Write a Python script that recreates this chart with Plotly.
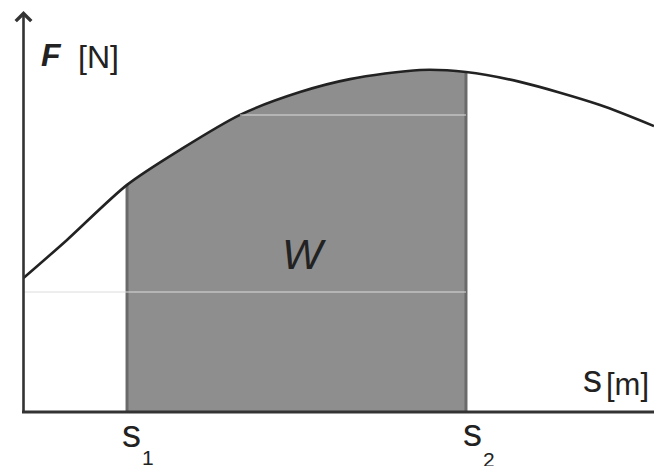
import plotly.graph_objects as go

# ---- data ----
s_vals = [0.0, 0.690, 1.642, 2.482, 3.434, 4.385, 5.178, 6.289, 7.018, 7.875, 9.144, 10.0]
F_vals = [3.94, 5.06, 6.68, 7.71, 8.74, 9.41, 9.79, 10.06, 10.00, 9.71, 9.03, 8.41]
s1 = 1.642
s2 = 7.018
F_s1 = 6.68
F_s2 = 10.00

W = 654
H = 466
# pixel <-> data helpers for layout placement only
X0_PX, XSCALE = 23.5, 63.05
Y0_PX, YSCALE = 412.0, 34.0
def X(px):
    return (px - X0_PX) / XSCALE
def Y(py):
    return (Y0_PX - py) / YSCALE

FILL = "#8e8e8e"
EDGE = "#6a6a6a"
INK = "#222222"
FONT = "Liberation Sans, Arial, sans-serif"

fig = go.Figure()

# shaded work area between s1 and s2
idx = [i for i, s in enumerate(s_vals) if s1 <= s <= s2]
fig.add_trace(go.Scatter(
    x=[s_vals[i] for i in idx], y=[F_vals[i] for i in idx],
    mode="lines", line=dict(width=0, shape="spline", smoothing=0.8),
    fill="tozeroy", fillcolor=FILL, hoverinfo="skip", showlegend=False))

# vertical borders at s1, s2
for sv, fv in [(s1, F_s1), (s2, F_s2)]:
    fig.add_trace(go.Scatter(x=[sv, sv], y=[0, fv], mode="lines",
                             line=dict(color=EDGE, width=3), hoverinfo="skip", showlegend=False))

# the force curve
fig.add_trace(go.Scatter(x=s_vals, y=F_vals, mode="lines",
                         line=dict(color=INK, width=2.6, shape="spline", smoothing=0.8),
                         hoverinfo="skip", showlegend=False))

shapes = [
    # faint scan artefact lines
    dict(type="line", xref="x", yref="y", x0=X(23), x1=X(466), y0=Y(292), y1=Y(292),
         line=dict(color="#dcdcdc", width=1), layer="above"),
    dict(type="line", xref="x", yref="y", x0=X(240), x1=X(466), y0=Y(115), y1=Y(115),
         line=dict(color="#dcdcdc", width=1), layer="above"),
    # s axis
    dict(type="line", xref="x", yref="y", x0=X(22), x1=X(654), y0=0, y1=0,
         line=dict(color="#333333", width=3), layer="above"),
]

annotations = [
    # F axis with arrow
    dict(x=0, y=Y(11), ax=0, ay=Y(413), xref="x", yref="y", axref="x", ayref="y",
         text="", showarrow=True, arrowhead=4, arrowsize=1.15, arrowwidth=2.6,
         arrowcolor="#333333", standoff=0),
    dict(x=X(39), y=Y(55), xref="x", yref="y", text="<b><i>F</i></b>", showarrow=False,
         xanchor="left", yanchor="middle", font=dict(family=FONT, size=32, color=INK)),
    dict(x=X(76), y=Y(57), xref="x", yref="y", text="[N]", showarrow=False,
         xanchor="left", yanchor="middle", font=dict(family=FONT, size=32, color=INK)),
    dict(x=X(581), y=Y(379), xref="x", yref="y", text="s", showarrow=False,
         xanchor="left", yanchor="middle", font=dict(family=FONT, size=38, color=INK)),
    dict(x=X(604), y=Y(384), xref="x", yref="y", text="[m]", showarrow=False,
         xanchor="left", yanchor="middle", font=dict(family=FONT, size=31, color=INK)),
    dict(x=X(280), y=Y(254), xref="x", yref="y", text="<i>W</i>", showarrow=False,
         xanchor="left", yanchor="middle", font=dict(family=FONT, size=43, color=INK)),
    dict(x=X(120), y=Y(434), xref="x", yref="y", text="s", showarrow=False,
         xanchor="left", yanchor="middle", font=dict(family=FONT, size=38, color=INK)),
    dict(x=X(140), y=Y(457), xref="x", yref="y", text="1", showarrow=False,
         xanchor="left", yanchor="middle", font=dict(family=FONT, size=21, color=INK)),
    dict(x=X(461), y=Y(433), xref="x", yref="y", text="s", showarrow=False,
         xanchor="left", yanchor="middle", font=dict(family=FONT, size=38, color=INK)),
    dict(x=X(481), y=Y(459), xref="x", yref="y", text="2", showarrow=False,
         xanchor="left", yanchor="middle", font=dict(family=FONT, size=21, color=INK)),
]

fig.update_layout(
    width=W, height=H,
    margin=dict(l=0, r=0, t=0, b=0),
    paper_bgcolor="white", plot_bgcolor="white",
    xaxis=dict(range=[X(0), X(W)], visible=False, fixedrange=True),
    yaxis=dict(range=[Y(H), Y(0)], visible=False, fixedrange=True),
    shapes=shapes, annotations=annotations, showlegend=False,
)

fig.write_html("out.html", config=dict(displayModeBar=False),
               post_script="document.body.style.margin='0';document.body.style.overflow='hidden';")
